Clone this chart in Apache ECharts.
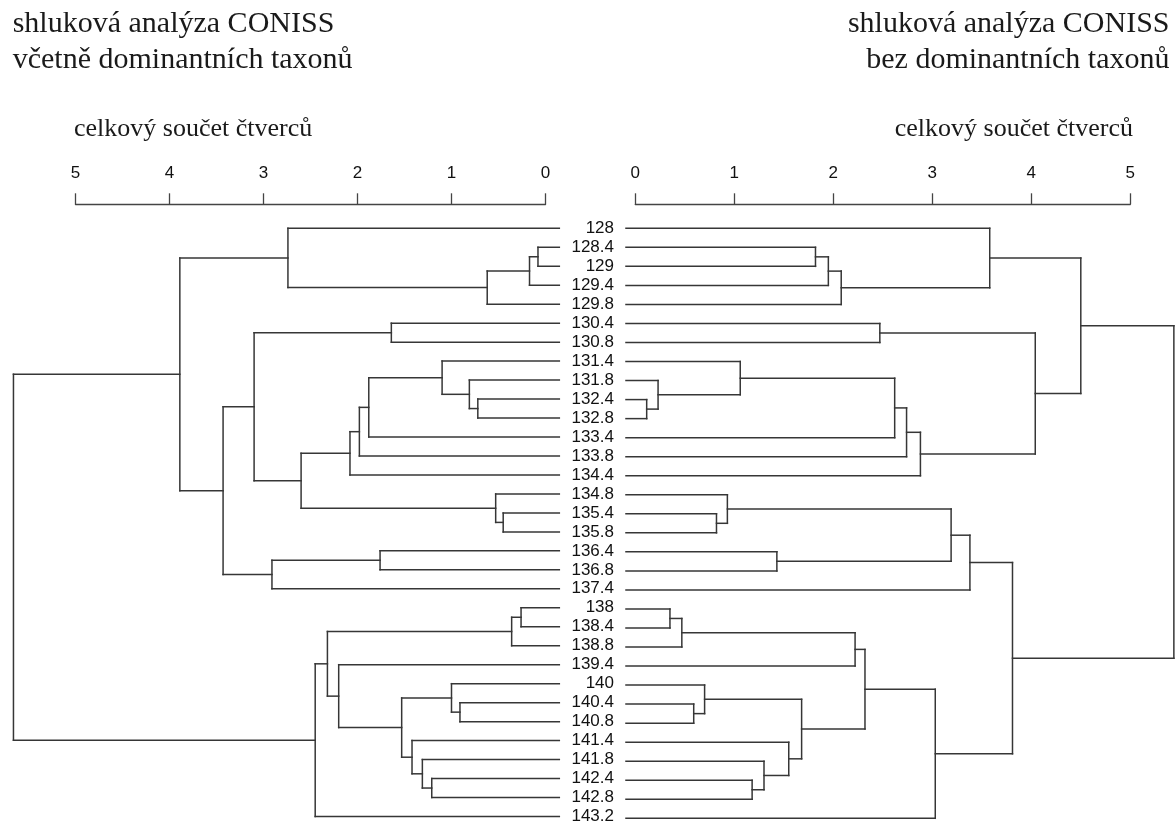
<!DOCTYPE html>
<html>
<head>
<meta charset="utf-8">
<script src="https://cdn.jsdelivr.net/npm/echarts@6/dist/echarts.min.js"></script>
<style>
  html, body { margin: 0; padding: 0; background: #ffffff; }
  #chart { width: 1176px; height: 825px; }
</style>
</head>
<body>
<div id="chart"></div>
<script>
// Sample depths, top to bottom (leaf order of both dendrograms)
const depths = ['128', '128.4', '129', '129.4', '129.8', '130.4', '130.8', '131.4', '131.8',
  '132.4', '132.8', '133.4', '133.8', '134.4', '134.8', '135.4', '135.8', '136.4', '136.8',
  '137.4', '138', '138.4', '138.8', '139.4', '140', '140.4', '140.8', '141.4', '141.8',
  '142.4', '142.8', '143.2'];

// Total sum of squares axis ticks
const sqTicks = [0, 1, 2, 3, 4, 5];

// CONISS merge steps in hclust notation: negative = sample (1-based), positive = earlier step
// Left tree: including dominant taxa
const mergeWith = [
  [-2, -3], [1, -4], [2, -5], [-1, 3], [-6, -7], [-10, -11], [-9, 6], [-8, 7], [8, -12],
  [9, -13], [10, -14], [-16, -17], [-15, 12], [11, 13], [5, 14], [-18, -19], [16, -20],
  [15, 17], [4, 18], [-21, -22], [20, -23], [-26, -27], [-25, 22], [-30, -31], [-29, 24],
  [-28, 25], [23, 26], [-24, 27], [21, 28], [29, -32], [19, 30]
];
const heightWith = [
  0.08, 0.17, 0.62, 2.74, 1.64, 0.72, 0.81, 1.10, 1.88,
  1.98, 2.08, 0.45, 0.53, 2.60, 3.10, 1.76, 2.91,
  3.43, 3.89, 0.26, 0.36, 0.91, 1.00, 1.21, 1.31,
  1.42, 1.53, 2.20, 2.32, 2.45, 5.66
];

// Right tree: without dominant taxa
const mergeWithout = [
  [-2, -3], [1, -4], [2, -5], [-1, 3], [-6, -7], [-10, -11], [-9, 6], [-8, 7], [8, -12],
  [9, -13], [10, -14], [5, 11], [4, 12], [-16, -17], [-15, 14], [-18, -19], [15, 16],
  [17, -20], [-21, -22], [19, -23], [20, -24], [-26, -27], [-25, 22], [-30, -31], [-29, 24],
  [-28, 25], [23, 26], [21, 27], [28, -32], [18, 29], [13, 30]
];
const heightWithout = [
  1.82, 1.95, 2.08, 3.58, 2.47, 0.115, 0.23, 1.06, 2.62,
  2.74, 2.88, 4.04, 4.50, 0.82, 0.93, 1.43, 3.19,
  3.38, 0.35, 0.47, 2.22, 0.59, 0.70, 1.18, 1.30,
  1.55, 1.68, 2.32, 3.03, 3.81, 5.44
];

// Leaf branches reach a little past zero towards the depth labels
const leafEndLeft = -0.147;
const leafEndRight = -0.094;

// Turn merge steps into elbow segments [h1, y1, h2, y2]
function dendroSegments(merge, height, leafEnd) {
  const pos = [];
  const segs = [];
  function child(ref) {
    return ref < 0 ? { h: leafEnd, y: -ref - 1 } : { h: height[ref - 1], y: pos[ref - 1] };
  }
  merge.forEach(function (m, i) {
    const a = child(m[0]);
    const b = child(m[1]);
    const h = height[i];
    segs.push([a.h, a.y, h, a.y]);
    segs.push([b.h, b.y, h, b.y]);
    segs.push([h, a.y, h, b.y]);
    pos[i] = (a.y + b.y) / 2;
  });
  return segs;
}

const lineColor = '#363636';
const serif = '"Liberation Serif", "Times New Roman", serif';
const sans = '"Liberation Sans", Arial, sans-serif';

function renderSeg(params, api) {
  const p1 = api.coord([api.value(0), api.value(1)]);
  const p2 = api.coord([api.value(2), api.value(3)]);
  return {
    type: 'line',
    shape: { x1: p1[0], y1: p1[1], x2: p2[0], y2: p2[1] },
    style: { stroke: lineColor, lineWidth: 1.5, lineCap: 'square' }
  };
}

function sqAxis(gridIndex, inverse) {
  return {
    gridIndex: gridIndex,
    type: 'value',
    min: sqTicks[0],
    max: sqTicks[sqTicks.length - 1],
    interval: 1,
    inverse: inverse,
    position: 'top',
    offset: 24,
    axisLine: { show: true, onZero: false, lineStyle: { color: '#444', width: 1.3 } },
    axisTick: { show: true, length: 11, lineStyle: { color: '#444', width: 1.3 } },
    axisLabel: { margin: 22, fontSize: 17, fontFamily: sans, color: '#111' },
    splitLine: { show: false }
  };
}

function depthAxis(gridIndex, showLabels) {
  return {
    gridIndex: gridIndex,
    type: 'value',
    min: 0,
    max: depths.length - 1,
    interval: 1,
    inverse: true,
    position: 'right',
    axisLine: { show: false, onZero: false },
    axisTick: { show: false },
    splitLine: { show: false },
    axisLabel: showLabels ? {
      show: true, margin: 68.5, align: 'right', fontSize: 17, fontFamily: sans, color: '#111',
      formatter: function (v) { return depths[v]; }
    } : { show: false }
  };
}

const chart = echarts.init(document.getElementById('chart'), null, { renderer: 'canvas' });

chart.setOption({
  backgroundColor: '#ffffff',
  animation: false,
  grid: [
    { left: 75.5, width: 470, top: 228.3, height: 590 },
    { left: 635.3, width: 495, top: 228.3, height: 590 }
  ],
  xAxis: [sqAxis(0, true), sqAxis(1, false)],
  yAxis: [depthAxis(0, true), depthAxis(1, false)],
  series: [
    {
      type: 'custom', xAxisIndex: 0, yAxisIndex: 0, clip: false,
      encode: { x: [0, 2], y: [1, 3] },
      data: dendroSegments(mergeWith, heightWith, leafEndLeft),
      renderItem: renderSeg, silent: true
    },
    {
      type: 'custom', xAxisIndex: 1, yAxisIndex: 1, clip: false,
      encode: { x: [0, 2], y: [1, 3] },
      data: dendroSegments(mergeWithout, heightWithout, leafEndRight),
      renderItem: renderSeg, silent: true
    }
  ],
  graphic: [
    { type: 'text', style: { x: 12.7, y: 24, text: 'shluková analýza CONISS', font: '30px ' + serif, fill: '#1a1a1a', align: 'left', verticalAlign: 'middle' } },
    { type: 'text', style: { x: 12.7, y: 60.5, text: 'včetně dominantních taxonů', font: '30px ' + serif, fill: '#1a1a1a', align: 'left', verticalAlign: 'middle' } },
    { type: 'text', style: { x: 1169.5, y: 24, text: 'shluková analýza CONISS', font: '30px ' + serif, fill: '#1a1a1a', align: 'right', verticalAlign: 'middle' } },
    { type: 'text', style: { x: 1169.5, y: 60.5, text: 'bez dominantních taxonů', font: '30px ' + serif, fill: '#1a1a1a', align: 'right', verticalAlign: 'middle' } },
    { type: 'text', style: { x: 74, y: 129.5, text: 'celkový součet čtverců', font: '26px ' + serif, fill: '#1a1a1a', align: 'left', verticalAlign: 'middle' } },
    { type: 'text', style: { x: 1133, y: 129.5, text: 'celkový součet čtverců', font: '26px ' + serif, fill: '#1a1a1a', align: 'right', verticalAlign: 'middle' } }
  ]
});
</script>
</body>
</html>
